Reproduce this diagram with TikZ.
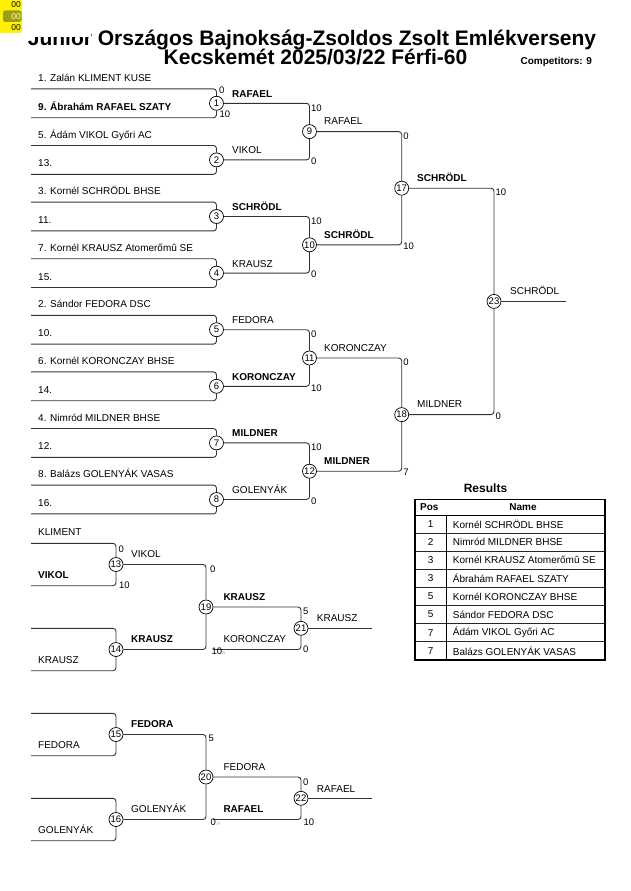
\documentclass[tikz,border=0pt]{standalone}
\usepackage{fontspec}
\setmainfont{Liberation Sans}
\usetikzlibrary{calc,positioning}
\definecolor{hlolive}{RGB}{158,158,18}
\tikzset{
  bline/.style={draw=black!80, line width=0.9pt, rounded corners=3pt},
  bout/.style={circle, draw, fill=white, line width=0.7pt, minimum size=14pt, inner sep=0pt, font=\fontsize{9.5}{10}\selectfont},
  pname/.style={anchor=base west, inner sep=0pt},
  wname/.style={anchor=base west, inner sep=0pt},
  score/.style={anchor=west, inner sep=0pt, font=\fontsize{9.5}{10}\selectfont}
}
\newcommand \mydrawpair[7][14.4]
{
\node[bout] (#2) at (#3,#4) {#5};
\coordinate (#2a) at (31,#4-#1);              % upper entry line
\coordinate (#2b) at (31,#4+#1);              % lower entry line
\draw[bline] (#2a) -| (#2);
\draw[bline] (#2b) -| (#2);
\node[pname] (#2na) at ($(#2a)+(7,-7.5)$) {#6};
\node[pname] (#2nb) at ($(#2b)+(7,-7.5)$) {#7};
}
\newcommand \myresrow[3]
{
\node[anchor=center] (pos#1) at (430.75,{515+18.1*#1-9.05}) {#2};
\node[anchor=west, inner sep=0pt] (nam#1) at (452.7,{515+18.1*#1-9.05}) {#3};
\draw[black!85, line width=0.6pt] (415,{515+18.1*#1}) -- (605,{515+18.1*#1});
}

\begin{document}
\begin{tikzpicture}[x=1pt, y=-1pt, font=\fontsize{10}{12}\selectfont]
\useasboundingbox (0,0) rectangle (630,891);
% title
\node[anchor=base, font=\fontsize{21}{24}\selectfont\bfseries] (title) at (312,45.5) {Junior Országos Bajnokság-Zsoldos Zsolt Emlékverseny};
\node[anchor=base, font=\fontsize{21}{24}\selectfont\bfseries] (place) at (315.5,65) {Kecskemét 2025/03/22 Férfi-60};
\node[anchor=base west, font=\fontsize{10}{12}\selectfont\bfseries] (comp) at (517,64.5) {Competitors: 9};
\fill[white] (0,0) rectangle (91,37.5);
\fill[yellow, rounded corners=2pt] (-3,-3) rectangle (22,33);
\fill[hlolive, rounded corners=2.5pt] (3,10.5) rectangle (21.5,22);
\node[anchor=east, inner sep=0pt, font=\fontsize{8.5}{9}\selectfont] (c1) at (21,5) {00};
\node[anchor=east, inner sep=0pt, font=\fontsize{8.5}{9}\selectfont, text=yellow!25] (c2) at (21,16.3) {00};
\node[anchor=east, inner sep=0pt, font=\fontsize{8.5}{9}\selectfont] (c3) at (21,27.8) {00};

% main draw, first round
\mydrawpair{m1}{216.5}{103.3}{1}{1. Zalán KLIMENT KUSE}{\textbf{9. Ábrahám RAFAEL SZATY}}
\mydrawpair{m2}{216.5}{159.9}{2}{5. Ádám VIKOL Győri AC}{13.}
\mydrawpair{m3}{216.5}{216.5}{3}{3. Kornél SCHRÖDL BHSE}{11.}
\mydrawpair{m4}{216.5}{273.1}{4}{7. Kornél KRAUSZ Atomerőmû SE}{15.}
\mydrawpair{m5}{216.5}{329.7}{5}{2. Sándor FEDORA DSC}{10.}
\mydrawpair{m6}{216.5}{386.3}{6}{6. Kornél KORONCZAY BHSE}{14.}
\mydrawpair{m7}{216.5}{442.9}{7}{4. Nimród MILDNER BHSE}{12.}
\mydrawpair{m8}{216.5}{499.5}{8}{8. Balázs GOLENYÁK VASAS}{16.}
\node[score] (s1a) at (219,90.3) {0};
\node[score] (s1b) at (219.5,114.5) {10};

% later rounds
\node[bout] (m9)  at (309.5,131.6) {9};
\node[bout] (m10) at (309.5,244.8) {10};
\node[bout] (m11) at (309.5,358)   {11};
\node[bout] (m12) at (309.5,471.2) {12};
\node[bout] (m17) at (401.7,188.2) {17};
\node[bout] (m18) at (401.7,414.6) {18};
\node[bout] (m23) at (494,301.4)   {23};
\coordinate (fin) at (566,301.4);
\draw[bline] (m1) -| (m9);  \draw[bline] (m2) -| (m9);
\draw[bline] (m3) -| (m10); \draw[bline] (m4) -| (m10);
\draw[bline] (m5) -| (m11); \draw[bline] (m6) -| (m11);
\draw[bline] (m7) -| (m12); \draw[bline] (m8) -| (m12);
\draw[bline] (m9) -| (m17); \draw[bline] (m10) -| (m17);
\draw[bline] (m11) -| (m18); \draw[bline] (m12) -| (m18);
\draw[bline] (m17) -| (m23); \draw[bline] (m18) -| (m23);
\draw[bline] (m23) -- (fin);

% winners
\node[wname] (w1) at ($(m1)+(15.5,-6)$) {\textbf{RAFAEL}};
\node[wname] (w2) at ($(m2)+(15.5,-6)$) {VIKOL};
\node[wname] (w3) at ($(m3)+(15.5,-6)$) {\textbf{SCHRÖDL}};
\node[wname] (w4) at ($(m4)+(15.5,-6)$) {KRAUSZ};
\node[wname] (w5) at ($(m5)+(15.5,-6)$) {FEDORA};
\node[wname] (w6) at ($(m6)+(15.5,-6)$) {\textbf{KORONCZAY}};
\node[wname] (w7) at ($(m7)+(15.5,-6)$) {\textbf{MILDNER}};
\node[wname] (w8) at ($(m8)+(15.5,-6)$) {GOLENYÁK};
\node[wname] (w9)  at ($(m9)+(14.5,-6.8)$)  {RAFAEL};
\node[wname] (w10) at ($(m10)+(14.5,-6.8)$) {\textbf{SCHRÖDL}};
\node[wname] (w11) at ($(m11)+(14.5,-6.8)$) {KORONCZAY};
\node[wname] (w12) at ($(m12)+(14.5,-6.8)$) {\textbf{MILDNER}};
\node[wname] (w17) at ($(m17)+(15.3,-6.8)$) {\textbf{SCHRÖDL}};
\node[wname] (w18) at ($(m18)+(15.3,-6.8)$) {MILDNER};
\node[wname] (w23) at ($(m23)+(16,-7)$)     {SCHRÖDL};

% scores
\node[score] (s9a)  at (311,107.8) {10};   \node[score] (s9b)  at (311,161.4) {0};
\node[score] (s10a) at (311,221)   {10};   \node[score] (s10b) at (311,274.6) {0};
\node[score] (s11a) at (311,334.2) {0};    \node[score] (s11b) at (311,387.8) {10};
\node[score] (s12a) at (311,447.4) {10};   \node[score] (s12b) at (311,501)   {0};
\node[score] (s17a) at (403.2,136.1) {0};  \node[score] (s17b) at (403.2,246.3) {10};
\node[score] (s18a) at (403.2,362.5) {0};  \node[score] (s18b) at (403.2,472.7) {7};
\node[score] (s23a) at (495.5,192.7) {10}; \node[score] (s23b) at (495.5,416.1) {0};

% repechage
\mydrawpair[21.2]{m13}{116}{564.5}{13}{KLIMENT}{\textbf{VIKOL}}
\mydrawpair[21.2]{m14}{116}{649.5}{14}{}{KRAUSZ}
\mydrawpair[21.2]{m15}{116}{734.5}{15}{}{FEDORA}
\mydrawpair[21.2]{m16}{116}{819.5}{16}{}{GOLENYÁK}
\node[bout] (m19) at (206,607)   {19};
\node[bout] (m20) at (206,777)   {20};
\node[bout] (m21) at (301,628.3) {21};
\node[bout] (m22) at (301,798.3) {22};
\coordinate (kor) at (213,649.5);
\coordinate (raf) at (213,819.5);
\coordinate (out21) at (372,628.3);
\coordinate (out22) at (372,798.3);
\draw[bline] (m13) -| (m19); \draw[bline] (m14) -| (m19);
\draw[bline] (m19) -| (m21); \draw[bline] (kor) -| (m21);
\draw[bline] (m21) -- (out21);
\draw[bline] (m15) -| (m20); \draw[bline] (m16) -| (m20);
\draw[bline] (m20) -| (m22); \draw[bline] (raf) -| (m22);
\draw[bline] (m22) -- (out22);
\node[wname] (w13) at ($(m13)+(15,-7.2)$)  {VIKOL};
\node[wname] (w14) at ($(m14)+(15,-7.2)$)  {\textbf{KRAUSZ}};
\node[wname] (w19) at ($(m19)+(17.3,-7)$)  {\textbf{KRAUSZ}};
\node[wname] (wk)  at ($(kor)+(10.3,-7.2)$) {KORONCZAY};
\node[wname] (w21) at ($(m21)+(15.7,-6.6)$) {KRAUSZ};
\node[wname] (w15) at ($(m15)+(15,-7.2)$)  {\textbf{FEDORA}};
\node[wname] (w16) at ($(m16)+(15,-7.2)$)  {GOLENYÁK};
\node[wname] (w20) at ($(m20)+(17.3,-6.3)$) {FEDORA};
\node[wname] (wr)  at ($(raf)+(10.3,-7.2)$) {\textbf{RAFAEL}};
\node[wname] (w22) at ($(m22)+(15.7,-6)$)   {RAFAEL};
\node[score] (s13a) at (118.5,549.3) {0};  \node[score] (s13b) at (119,585.7) {10};
\node[score] (s19a) at (210,569.3) {0};    \node[score] (s19b) at (211.5,651) {10};
\node[score] (s21a) at (303,611.5) {5};    \node[score] (s21b) at (303,649.5) {0};
\node[score] (s20a) at (208.5,738.3) {5};  \node[score] (s20b) at (210.5,822.7) {0};
\node[score] (s22a) at (303,782) {0};      \node[score] (s22b) at (303.5,822.7) {10};
\node[anchor=west, inner sep=0pt, text=black!40, font=\fontsize{5}{5}\selectfont] (g1) at (222,653.5) {a};
\node[anchor=west, inner sep=0pt, text=black!40, font=\fontsize{5}{5}\selectfont] (g2) at (217,824.5) {rr};

% results
\node[font=\fontsize{12}{14}\selectfont\bfseries] (res) at (485.5,488) {Results};
\begin{scope}
\clip (415,499.3) rectangle (605,659.8);
\node[anchor=west, inner sep=0pt, font=\fontsize{10}{12}\selectfont\bfseries] (hpos) at (420,507.2) {Pos};
\node[anchor=center, font=\fontsize{10}{12}\selectfont\bfseries] (hnam) at (523,507.2) {Name};
\draw[black, line width=0.8pt] (415,515) -- (605,515);
\myresrow{1}{1}{Kornél SCHRÖDL BHSE}
\myresrow{2}{2}{Nimród MILDNER BHSE}
\myresrow{3}{3}{Kornél KRAUSZ Atomerőmû SE}
\myresrow{4}{3}{Ábrahám RAFAEL SZATY}
\myresrow{5}{5}{Kornél KORONCZAY BHSE}
\myresrow{6}{5}{Sándor FEDORA DSC}
\myresrow{7}{7}{Ádám VIKOL Győri AC}
\myresrow{8}{7}{Balázs GOLENYÁK VASAS}
\end{scope}
\draw[black, line width=0.7pt] (446.5,515) -- (446.5,659.8);
\draw[black, line width=1.4pt] (415,499.3) rectangle (605,659.8);
\end{tikzpicture}
\end{document}
